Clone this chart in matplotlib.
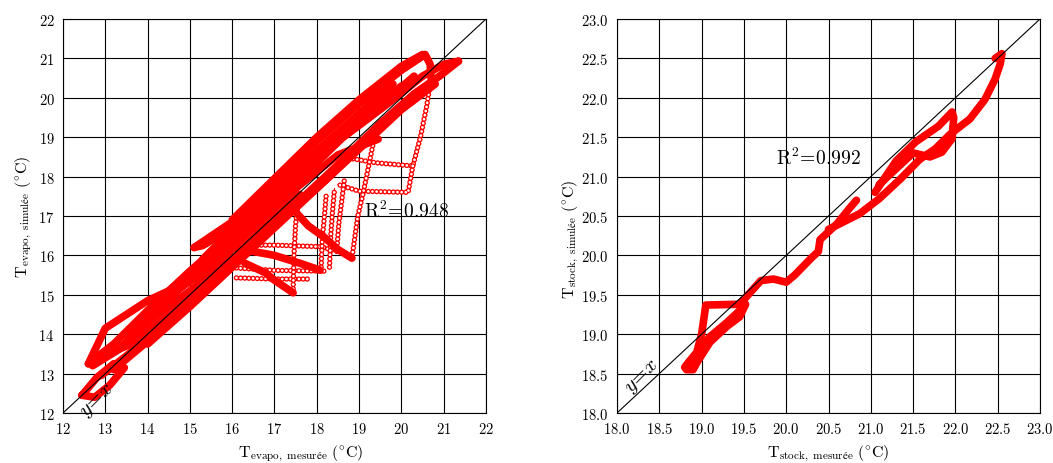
import matplotlib
matplotlib.use("Agg")
import matplotlib.pyplot as plt
from matplotlib.ticker import FixedLocator, FuncFormatter

plt.rcParams['mathtext.fontset'] = 'cm'
plt.rcParams['font.family'] = ['DejaVu Serif']
plt.rcParams['lines.scale_dashes'] = False

RED = '#ff0000'

# ---------------- left chart data (T_evapo) ----------------
left_ticks = [12, 13, 14, 15, 16, 17, 18, 19, 20, 21, 22]
left_r2 = "0.948"

# dense (thick) parts of the trajectory
evap_a_x = [12.45, 12.8, 13.2, 13.45, 13.1, 12.75, 12.45]
evap_a_y = [12.45, 12.9, 13.25, 13.15, 12.7, 12.4, 12.45]
evap_b_x = [12.9, 13.5, 14.5, 15.5, 16.5, 17.5, 18.5, 19.5, 20.3, 20.9, 21.35]
evap_b_y = [12.95, 13.45, 14.35, 15.3, 16.3, 17.3, 18.3, 19.35, 20.1, 20.55, 20.93]
evap_c_x = [21.35, 21.0, 20.5, 19.8, 19.0, 18.0, 17.0, 16.0, 15.0, 14.0, 13.2, 12.6]
evap_c_y = [20.93, 20.85, 20.55, 19.95, 19.3, 18.5, 17.5, 16.55, 15.6, 14.6, 13.75, 13.25]
evap_d_x = [12.6, 13.0, 14.0, 15.0, 15.6, 16.5, 17.5, 18.5, 19.45]
evap_d_y = [13.25, 14.15, 14.85, 15.35, 15.75, 16.7, 17.7, 18.55, 18.95]
evap_e_x = [15.1, 16.0, 17.0, 18.0, 19.0, 20.0, 20.56, 20.68, 20.7]
evap_e_y = [16.2, 16.85, 17.85, 18.9, 19.85, 20.7, 21.1, 20.85, 20.5]
evap_f_x = [20.3, 19.5, 18.5, 17.5, 16.5, 15.3, 15.1]
evap_f_y = [20.45, 19.9, 19.0, 18.0, 17.0, 16.25, 16.2]
evap_g_x = [12.7, 13.3, 14.0, 15.0, 16.0]
evap_g_y = [13.2, 13.6, 14.3, 15.1, 15.95]
evap_h_x = [16.0, 16.5, 17.0, 17.6, 18.07]
evap_h_y = [16.2, 16.1, 16.0, 15.8, 15.63]
evap_i_x = [16.3, 16.8, 17.0, 17.44]
evap_i_y = [15.8, 15.55, 15.37, 15.05]
evap_j_x = [17.5, 17.8, 18.2, 18.5, 18.83]
evap_j_y = [17.1, 16.75, 16.44, 16.15, 15.93]
evap_k_x = [13.5, 14.5, 15.5, 16.5, 17.5, 18.5, 19.5, 20.3]
evap_k_y = [14.0, 14.9, 15.9, 16.95, 17.95, 18.9, 19.8, 20.55]
evap_l_x = [14.0, 15.0, 16.0, 17.0, 18.0, 19.0, 20.0]
evap_l_y = [14.55, 15.35, 16.3, 17.35, 18.35, 19.4, 20.3]
evap_m_x = [13.2, 14.2, 15.2, 16.2, 17.2, 18.2, 19.2, 20.2]
evap_m_y = [13.1, 14.0, 15.0, 15.95, 16.95, 17.9, 18.95, 19.95]
evap_n_x = [12.65, 13.6, 14.6, 15.6, 16.6, 17.6]
evap_n_y = [13.3, 13.75, 14.55, 15.45, 16.55, 17.55]
evap_o_x = [15.3, 16.0, 17.0, 18.0, 19.0, 19.8]
evap_o_y = [15.9, 16.65, 17.65, 18.65, 19.6, 20.35]
evap_p_x = [16.0, 17.0, 18.0, 19.0, 20.0, 20.5]
evap_p_y = [16.9, 17.95, 19.0, 19.95, 20.8, 21.1]
evap_q_x = [14.0, 15.0, 16.0, 17.0, 18.0, 19.0, 20.0, 20.8]
evap_q_y = [13.75, 14.7, 15.7, 16.7, 17.7, 18.7, 19.7, 20.35]

# sparse (step) parts of the trajectory
step_a_x = [20.7, 20.6, 20.45, 20.27, 19.4, 18.6]
step_a_y = [20.5, 19.8, 19.0, 18.27, 18.35, 18.5]
step_b_x = [20.27, 20.16, 19.0, 18.5]
step_b_y = [18.27, 17.6, 17.63, 17.8]
step_c_x = [19.4, 19.1, 18.97, 18.83]
step_c_y = [19.2, 17.6, 17.0, 15.93]
step_d_x = [16.0, 17.0, 18.12, 18.43]
step_d_y = [16.26, 16.26, 16.22, 16.1]
step_e_x = [16.1, 17.0, 18.2]
step_e_y = [15.68, 15.62, 15.6]
step_f_x = [16.1, 17.0, 17.8]
step_f_y = [15.43, 15.4, 15.4]
step_g_x = [17.44, 17.46, 17.5, 17.55]
step_g_y = [15.05, 16.0, 16.8, 17.3]
step_h_x = [18.1, 18.13, 18.18, 18.22]
step_h_y = [15.6, 16.4, 17.0, 17.5]
step_i_x = [18.3, 18.33, 18.37, 18.42]
step_i_y = [15.7, 16.5, 17.1, 17.7]
step_j_x = [18.47, 18.52, 18.58, 18.65]
step_j_y = [16.1, 16.8, 17.3, 17.9]

# ---------------- right chart data (T_stock) ----------------
right_ticks = [18.0, 18.5, 19.0, 19.5, 20.0, 20.5, 21.0, 21.5, 22.0, 22.5, 23.0]
right_r2 = "0.992"

stock_a_x = [18.80, 18.85, 18.95, 19.1, 19.3, 19.45, 19.52, 19.45, 19.3, 19.1, 18.95, 18.9, 18.82]
stock_a_y = [18.58, 18.65, 18.78, 18.97, 19.15, 19.3, 19.38, 19.22, 19.1, 18.9, 18.65, 18.55, 18.55]
stock_b_x = [18.95, 19.0, 19.05, 19.45, 19.55, 19.7, 19.85, 20.0, 20.1, 20.3, 20.38, 20.4, 20.5, 20.6, 20.75, 20.83]
stock_b_y = [18.8, 19.0, 19.37, 19.38, 19.5, 19.68, 19.7, 19.66, 19.75, 19.97, 20.05, 20.2, 20.3, 20.4, 20.6, 20.7]
stock_c_x = [20.5, 20.87, 21.1, 21.35, 21.58, 21.76, 21.94, 22.17, 22.35, 22.47, 22.53, 22.55, 22.47]
stock_c_y = [20.33, 20.53, 20.72, 20.97, 21.22, 21.35, 21.54, 21.73, 21.98, 22.24, 22.43, 22.56, 22.5]
stock_d_x = [21.05, 21.3, 21.53, 21.8, 21.96, 21.98, 21.96, 21.84, 21.7, 21.5, 21.3, 21.1]
stock_d_y = [20.8, 21.2, 21.44, 21.64, 21.82, 21.75, 21.48, 21.31, 21.25, 21.3, 21.1, 20.9]

left_dense = [(evap_a_x, evap_a_y), (evap_b_x, evap_b_y), (evap_c_x, evap_c_y),
              (evap_d_x, evap_d_y), (evap_e_x, evap_e_y), (evap_f_x, evap_f_y),
              (evap_g_x, evap_g_y), (evap_h_x, evap_h_y), (evap_i_x, evap_i_y),
              (evap_j_x, evap_j_y), (evap_k_x, evap_k_y), (evap_l_x, evap_l_y),
              (evap_m_x, evap_m_y), (evap_n_x, evap_n_y), (evap_o_x, evap_o_y),
              (evap_p_x, evap_p_y), (evap_q_x, evap_q_y)]
left_steps = [(step_a_x, step_a_y), (step_b_x, step_b_y), (step_c_x, step_c_y),
              (step_d_x, step_d_y), (step_e_x, step_e_y), (step_f_x, step_f_y),
              (step_g_x, step_g_y), (step_h_x, step_h_y), (step_i_x, step_i_y),
              (step_j_x, step_j_y)]
right_dense = [(stock_a_x, stock_a_y), (stock_b_x, stock_b_y),
               (stock_c_x, stock_c_y), (stock_d_x, stock_d_y)]


def ring_line(ax, x, y):
    """Line of small open circle markers (drawn via round-capped dashes)."""
    ax.plot(x, y, color=RED, lw=0.8, solid_capstyle='round', zorder=3)
    ax.plot(x, y, color=RED, lw=3.9, linestyle=(0, (0.001, 3.0)),
            dash_capstyle='round', zorder=3)
    ax.plot(x, y, color='white', lw=2.0, linestyle=(0, (0.001, 3.0)),
            dash_capstyle='round', zorder=3)


def dense_line(ax, x, y):
    ax.plot(x, y, color=RED, lw=5.5, solid_capstyle='round',
            solid_joinstyle='round', zorder=4)


def style_axes(ax, ticks, fmt):
    ax.set_xlim(ticks[0], ticks[-1])
    ax.set_ylim(ticks[0], ticks[-1])
    ax.xaxis.set_major_locator(FixedLocator(ticks))
    ax.yaxis.set_major_locator(FixedLocator(ticks))
    f = FuncFormatter(lambda v, p: '$' + (fmt % v) + '$')
    ax.xaxis.set_major_formatter(f)
    ax.yaxis.set_major_formatter(f)
    ax.grid(True, color='black', lw=0.8)
    ax.set_axisbelow(True)
    ax.tick_params(length=0, labelsize=10.5, pad=6)
    for s in ax.spines.values():
        s.set_linewidth(0.8)
    ax.plot([ticks[0], ticks[-1]], [ticks[0], ticks[-1]], color='black',
            lw=0.8, zorder=5)


fig = plt.figure(figsize=(10.53, 4.64), dpi=100)
axL = fig.add_axes([63 / 1053, 50 / 464, 423 / 1053, 394 / 464])
axR = fig.add_axes([617 / 1053, 50 / 464, 423 / 1053, 394 / 464])

style_axes(axL, left_ticks, '%d')
style_axes(axR, right_ticks, '%.1f')

for x, y in left_steps:
    ring_line(axL, x, y)
for x, y in left_dense:
    dense_line(axL, x, y)
for x, y in right_dense:
    dense_line(axR, x, y)

axL.text(19.12, 17.15, r'$\mathrm{R}^2\!=\!' + left_r2 + '$', fontsize=14,
         va='center', ha='left', zorder=6)
axR.text(19.88, 21.25, r'$\mathrm{R}^2\!=\!' + right_r2 + '$', fontsize=14,
         va='center', ha='left', zorder=6)

axL.text(12.83, 12.33, r'$y\!=\!x$', fontsize=15, rotation=45,
         rotation_mode='anchor', ha='center', va='center', zorder=6,
         clip_on=False)
axR.text(18.3, 18.47, r'$y\!=\!x$', fontsize=15, rotation=45,
         rotation_mode='anchor', ha='center', va='center', zorder=6)

lab = dict(fontsize=11.5, labelpad=3)
axL.set_xlabel(r'$\mathrm{T}_{\mathrm{evapo,\ mesurée}}\ (^{\circ}\mathrm{C})$', **lab)
axL.set_ylabel(r'$\mathrm{T}_{\mathrm{evapo,\ simulée}}\ (^{\circ}\mathrm{C})$', **lab)
axR.set_xlabel(r'$\mathrm{T}_{\mathrm{stock,\ mesurée}}\ (^{\circ}\mathrm{C})$', **lab)
axR.set_ylabel(r'$\mathrm{T}_{\mathrm{stock,\ simulée}}\ (^{\circ}\mathrm{C})$', **lab)

# label placement
axL.xaxis.set_label_coords(0.5 + 26 / 423, -0.075)
axR.xaxis.set_label_coords(0.5, -0.075)
axR.yaxis.set_label_coords(-0.085, 0.5 - 22 / 394)

fig.savefig('out.png', dpi=100)
